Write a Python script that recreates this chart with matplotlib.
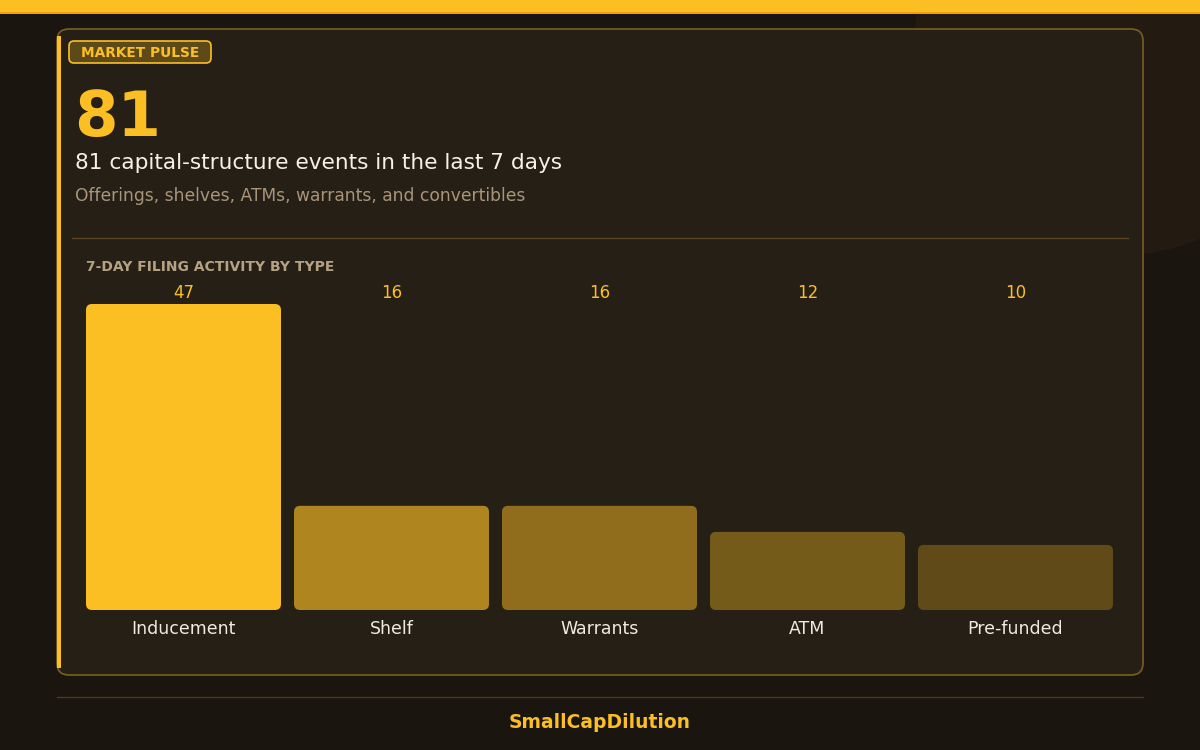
import matplotlib
matplotlib.use("Agg")
import matplotlib.pyplot as plt
from matplotlib.patches import FancyBboxPatch, Rectangle, Circle

categories = ["Inducement", "Shelf", "Warrants", "ATM", "Pre-funded"]
values = [47, 16, 16, 12, 10]
bar_colors = ["#FBBF24", "#AE851E", "#8F6D1C", "#755B1A", "#5F4A18"]
total = 81
title = "81 capital-structure events in the last 7 days"
subtitle = "Offerings, shelves, ATMs, warrants, and convertibles"
section = "7-DAY FILING ACTIVITY BY TYPE"
badge = "MARKET PULSE"
footer = "SmallCapDilution"

AMBER = "#FBBF24"
PAGE = "#1B1510"
CARD = "#261F16"
W, H = 1200, 750

plt.rcParams['font.family'] = ['DejaVu Sans']
fig = plt.figure(figsize=(12, 7.5), dpi=100, facecolor=PAGE)
bg = fig.add_axes([0, 0, 1, 1])
bg.set_xlim(0, W)
bg.set_ylim(H, 0)
bg.axis("off")
bg.set_facecolor(PAGE)

# glow circle top-right
bg.add_patch(Circle((1120, 49), 206, facecolor="#231B12", edgecolor="none", zorder=0))
# top band
bg.add_patch(Rectangle((0, 0), W, 13, facecolor=AMBER, edgecolor="none", zorder=5))
bg.add_patch(Rectangle((0, 11.5), W, 2, facecolor="#F59E0B", edgecolor="none", zorder=5))

# card
bg.add_patch(FancyBboxPatch((57, 29), 1086, 646, boxstyle="round,pad=0,rounding_size=12",
                            facecolor=CARD, edgecolor="#735A22", linewidth=1.3, zorder=1))
bg.add_patch(Rectangle((57, 36), 4, 632, facecolor=AMBER, edgecolor="none", zorder=2))

# badge
bg.add_patch(FancyBboxPatch((69, 41), 142, 22, boxstyle="round,pad=0,rounding_size=5",
                            facecolor="#5E4A18", edgecolor=AMBER, linewidth=1.2, zorder=2))
bg.text(140, 53, badge, color=AMBER, fontsize=9.9, fontweight="bold",
        ha="center", va="center", zorder=3)

bg.text(74, 136, str(total), color=AMBER, fontsize=45, fontweight="bold",
        ha="left", va="baseline", zorder=3)
bg.text(75, 169, title, color="#F5F0E8", fontsize=15.6, ha="left", va="baseline", zorder=3)
bg.text(75, 201, subtitle, color="#A8957A", fontsize=12.3, ha="left", va="baseline", zorder=3)

# divider
bg.plot([72, 1128], [238, 238], color="#5A4520", linewidth=1, zorder=2)
bg.text(86, 271, section, color="#B5A283", fontsize=10, fontweight="bold",
        ha="left", va="baseline", zorder=3)

# footer
bg.plot([57, 1143], [697, 697], color="#4A3A1A", linewidth=1, zorder=2)
bg.text(600, 722, footer, color=AMBER, fontsize=13.5, fontweight="bold",
        ha="center", va="center", zorder=3)

# bar axes: x pixel 79.5..1119.5, y pixel 304..610
ax_left, ax_right = 79.5, 1119.5
ax_top, ax_bot = 304, 610
ax = fig.add_axes([ax_left / W, 1 - ax_bot / H, (ax_right - ax_left) / W, (ax_bot - ax_top) / H])
ax.set_facecolor("none")
ax.axis("off")
ax.set_xlim(-0.5, len(values) - 0.5)
ax.set_ylim(0, max(values))

bw = 195 / 208
px_per_x = (ax_right - ax_left) / len(values)
px_per_y = (ax_bot - ax_top) / max(values)
r_px = 6
rx = r_px / px_per_x
aspect = (r_px / px_per_y) / rx
bars = ax.bar(range(len(values)), values, width=bw, color="none")
for b, c, v, cat in zip(bars, bar_colors, values, categories):
    x0, w, h = b.get_x(), b.get_width(), b.get_height()
    b.set_visible(False)
    ax.add_patch(FancyBboxPatch((x0, 0), w, h, boxstyle=f"round,pad=0,rounding_size={rx}",
                                mutation_aspect=aspect, facecolor=c, edgecolor="none"))
    cx = x0 + w / 2
    ax.text(cx, max(values) + 6.5 / px_per_y, str(v), color=AMBER, fontsize=12,
            ha="center", va="baseline", clip_on=False)
    ax.text(cx, -24 / px_per_y, cat, color="#F0EBE0", fontsize=12.5,
            ha="center", va="baseline", clip_on=False)

fig.savefig("out.png", dpi=100, facecolor=PAGE)
